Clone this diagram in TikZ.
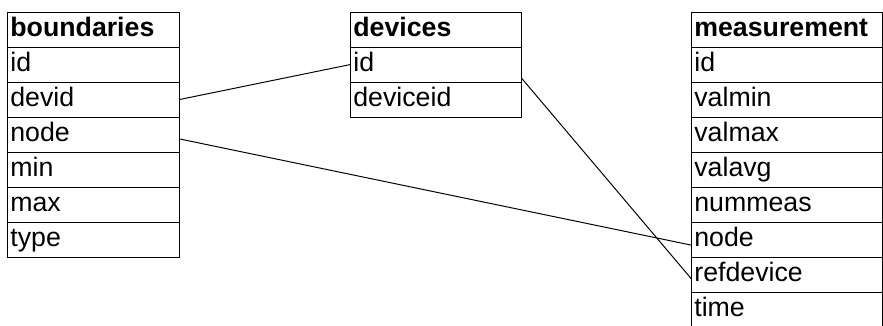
\documentclass[tikz,border=0pt]{standalone}
\usepackage{fontspec}
\setmainfont{Liberation Sans}
\begin{document}
\begin{tikzpicture}[x=0.025cm, y=-0.025cm, node distance=0.875cm, line width=0.7pt,
        field/.style={draw, rectangle, minimum height=0.875cm, inner xsep=0.06cm, inner ysep=0pt,
            align=left, text height=0.475cm, text depth=0.115cm, font=\fontsize{19}{22}\selectfont},
        head/.style={field, font=\fontsize{19}{22}\selectfont\bfseries}]

        \useasboundingbox (0,0) rectangle (883,325);

        % Table boundaries
        \node[head, text width=4.155cm] (bnd) at (93.5,29.5) {boundaries};
        \node[field, text width=4.155cm, below of=bnd] (bnd-id) {id};
        \node[field, text width=4.155cm, below of=bnd-id] (bnd-devid) {devid};
        \node[field, text width=4.155cm, below of=bnd-devid] (bnd-node) {node};
        \node[field, text width=4.155cm, below of=bnd-node] (bnd-min) {min};
        \node[field, text width=4.155cm, below of=bnd-min] (bnd-max) {max};
        \node[field, text width=4.155cm, below of=bnd-max] (bnd-type) {type};

        % Table devices
        \node[head, text width=4.13cm] (dev) at (436,29.5) {devices};
        \node[field, text width=4.13cm, below of=dev] (dev-id) {id};
        \node[field, text width=4.13cm, below of=dev-id] (dev-deviceid) {deviceid};

        % Table measurement
        \node[head, text width=4.63cm] (msr) at (787,29.5) {measurement};
        \node[field, text width=4.63cm, below of=msr] (msr-id) {id};
        \node[field, text width=4.63cm, below of=msr-id] (msr-valmin) {valmin};
        \node[field, text width=4.63cm, below of=msr-valmin] (msr-valmax) {valmax};
        \node[field, text width=4.63cm, below of=msr-valmax] (msr-valavg) {valavg};
        \node[field, text width=4.63cm, below of=msr-valavg] (msr-nummeas) {nummeas};
        \node[field, text width=4.63cm, below of=msr-nummeas] (msr-node) {node};
        \node[field, text width=4.63cm, below of=msr-node] (msr-refdevice) {refdevice};
        \node[field, text width=4.63cm, below of=msr-refdevice] (msr-time) {time};

        % Relations
        \draw (bnd-devid.east) -- (dev-id.west);
        \draw ([yshift=-0.11cm]bnd-node.east) -- ([yshift=-0.14cm]msr-node.west);
        \draw ([yshift=-0.34cm]dev-id.east) -- ([yshift=-0.11cm]msr-refdevice.west);

        \end{tikzpicture}
\end{document}
